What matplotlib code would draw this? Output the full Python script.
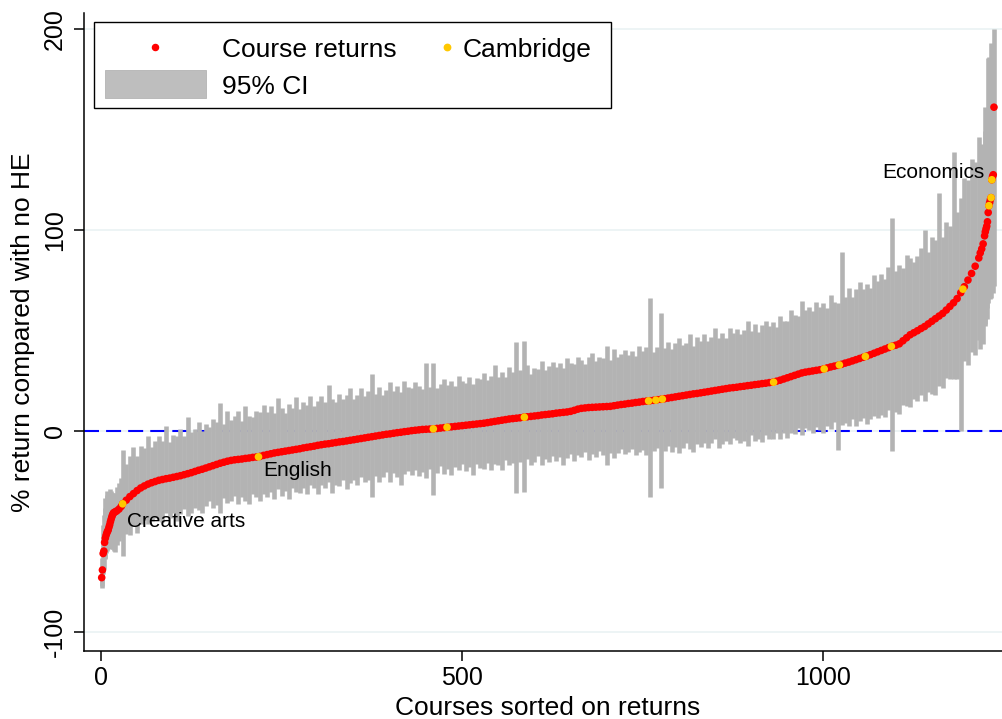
import numpy as np
import matplotlib
matplotlib.use("Agg")
import matplotlib.pyplot as plt
from matplotlib.patches import Rectangle

plt.rcParams['font.family'] = ['Liberation Sans', 'DejaVu Sans']

# course ranks: every course at the two steep ends, every fifth in between
rank_left = [1, 2, 3, 4, 5, 6, 7, 8, 9, 10, 11, 12, 13, 14, 15, 16, 17, 18,
             20, 22, 25, 28]
rank_right = [1217, 1219, 1221, 1223, 1224, 1225, 1226, 1227, 1228, 1229,
              1230, 1231, 1232, 1233, 1234, 1235, 1236]
rank_mid = list(range(30, 1216, 5))

# % return compared with no HE
ret_left = [-73.0, -69.2, -61.0, -59.8, -55.5, -53.4, -52.0, -50.9, -50.0,
            -49.3, -48.0, -46.8, -45.3, -44.0, -42.8, -41.8, -41.0, -40.6,
            -40.2, -39.8, -38.9, -37.6]
ret_mid = [
    -36.3, -34.5, -32.7, -31.2, -29.7, -28.4, -27.4, -26.5, -25.8, -25.2,
    -24.6, -24.2, -23.8, -23.5, -23.1, -22.7, -22.3, -21.8, -21.3, -20.8,
    -20.2, -19.6, -19.1, -18.5, -17.9, -17.3, -16.7, -16.1, -15.6, -15.1,
    -14.7, -14.4, -14.2, -14.0, -13.7, -13.5, -13.2, -13.0, -12.7, -12.2,
    -11.8, -11.4, -11.0, -10.7, -10.4, -10.1, -9.8, -9.5, -9.2, -8.9,
    -8.5, -8.2, -7.9, -7.6, -7.2, -6.9, -6.6, -6.4, -6.1, -5.8,
    -5.5, -5.3, -5.0, -4.7, -4.4, -4.1, -3.8, -3.5, -3.2, -2.9,
    -2.6, -2.3, -2.0, -1.7, -1.5, -1.2, -0.9, -0.7, -0.4, -0.2,
    0.1, 0.3, 0.5, 0.7, 0.8, 0.9, 1.0, 1.2, 1.4, 1.6,
    1.8, 2.0, 2.2, 2.4, 2.6, 2.8, 3.0, 3.2, 3.4, 3.6,
    3.8, 4.1, 4.4, 4.7, 5.0, 5.3, 5.6, 5.9, 6.1, 6.3,
    6.5, 6.8, 7.0, 7.2, 7.4, 7.6, 7.9, 8.1, 8.3, 8.5,
    8.8, 9.0, 9.2, 9.4, 9.7, 10.2, 10.8, 11.2, 11.4, 11.6,
    11.7, 11.8, 11.9, 12.0, 12.1, 12.2, 12.5, 12.8, 13.1, 13.3,
    13.6, 13.8, 14.1, 14.3, 14.6, 14.8, 15.0, 15.2, 15.5, 15.7,
    16.0, 16.3, 16.6, 16.9, 17.2, 17.5, 17.8, 18.1, 18.4, 18.6,
    18.9, 19.2, 19.5, 19.8, 20.1, 20.4, 20.7, 21.0, 21.3, 21.5,
    21.7, 22.0, 22.2, 22.5, 22.7, 23.0, 23.2, 23.5, 23.7, 24.0,
    24.2, 24.7, 25.2, 25.8, 26.4, 27.0, 27.6, 28.2, 28.8, 29.2,
    29.5, 29.8, 30.1, 30.4, 30.8, 31.3, 31.8, 32.2, 32.6, 33.1,
    33.7, 34.2, 34.8, 35.4, 36.0, 36.6, 37.2, 37.9, 38.6, 39.3,
    40.0, 40.7, 41.4, 42.1, 42.6, 43.3, 44.8, 46.3, 47.8, 48.8,
    49.8, 50.9, 51.9, 53.2, 54.5, 55.8, 57.1, 58.4, 60.1, 61.9,
    63.7, 65.8, 68.7, 71.7, 75.0, 78.3, 81.9, 86.0]
ret_right = [88.5, 90.5, 93.0, 97.0, 99.0, 100.5, 101.8, 104.0, 108.6, 112.0,
             113.5, 115.0, 116.0, 124.9, 126.5, 127.4, 161.0]

# 95% CI: distance above and below each return
up_left = [4, 6, 14, 18, 17, 20, 18, 19, 20, 17, 16, 18, 15, 14, 12, 11, 10,
           9, 9, 12, 13, 14]
up_mid = [
    27, 18, 20, 23, 17, 21, 19, 24, 18, 20,
    22, 19, 26, 18, 21, 20, 23, 19, 28, 20,
    21, 24, 19, 22, 20, 23, 21, 30, 19, 25,
    20, 22, 24, 19, 26, 21, 20, 23, 22, 25,
    21, 24, 20, 27, 22, 19, 23, 21, 26, 20,
    23, 21, 25, 20, 22, 24, 21, 29, 22, 20,
    24, 21, 23, 26, 20, 22, 25, 21, 23, 31,
    21, 24, 20, 22, 26, 21, 23, 20, 25, 22,
    21, 24, 22, 20, 33, 21, 33, 20, 22, 24,
    21, 23, 20, 25, 22, 21, 24, 20, 23, 22,
    25, 21, 23, 28, 22, 24, 21, 26, 23, 38,
    24, 38, 26, 21, 24, 23, 27, 22, 24, 26,
    23, 25, 22, 27, 24, 23, 26, 24, 22, 25,
    27, 23, 25, 24, 30, 23, 28, 24, 25, 27,
    24, 26, 23, 28, 25, 27, 51, 24, 26, 43,
    25, 28, 24, 27, 29, 25, 26, 30, 24, 28,
    26, 29, 25, 27, 31, 26, 28, 25, 30, 27,
    29, 26, 28, 32, 27, 30, 26, 29, 31, 28,
    30, 27, 32, 29, 28, 33, 30, 29, 36, 31,
    32, 30, 34, 31, 33, 30, 36, 32, 31, 56,
    33, 37, 32, 35, 38, 34, 36, 33, 39, 35,
    38, 35, 40, 64, 37, 39, 36, 41, 38, 35,
    37, 40, 48, 36, 42, 39, 61, 38, 44, 40,
    75, 43, 47, 54, 50, 57, 52, 60]
up_right = [45, 52, 48, 64, 50, 58, 46, 55, 77, 74, 60, 56, 77, 66, 55, 58, 39]

down_left = [5, 8, 10, 9, 8, 10, 9, 8, 10, 9, 11, 10, 13, 14, 15, 17, 18, 19,
             20, 17, 16, 15]
down_mid = [
    26, 17, 19, 16, 21, 18, 17, 20, 19, 18,
    19, 21, 17, 20, 18, 22, 19, 17, 21, 20,
    18, 20, 22, 19, 17, 21, 20, 25, 18, 21,
    20, 18, 22, 19, 21, 23, 18, 20, 22, 19,
    21, 19, 23, 18, 22, 20, 24, 19, 21, 22,
    20, 23, 19, 21, 24, 20, 22, 19, 25, 21,
    22, 19, 24, 21, 20, 23, 19, 22, 21, 30,
    20, 23, 21, 19, 24, 20, 22, 26, 21, 20,
    22, 20, 23, 21, 24, 20, 33, 22, 19, 23,
    21, 24, 20, 22, 19, 23, 21, 25, 20, 22,
    23, 20, 24, 21, 22, 25, 20, 23, 22, 37,
    22, 37, 21, 24, 23, 20, 25, 22, 24, 21,
    24, 22, 26, 23, 21, 25, 23, 24, 22, 26,
    23, 25, 22, 24, 29, 23, 26, 24, 22, 25,
    24, 23, 26, 25, 24, 27, 48, 25, 24, 44,
    26, 24, 27, 25, 28, 26, 24, 27, 29, 25,
    27, 25, 28, 26, 24, 29, 27, 26, 28, 25,
    26, 28, 27, 30, 25, 28, 27, 29, 26, 28,
    28, 26, 29, 27, 30, 28, 29, 27, 31, 28,
    29, 31, 28, 30, 32, 29, 31, 28, 42, 30,
    30, 32, 29, 33, 31, 30, 34, 32, 31, 33,
    32, 34, 31, 52, 33, 35, 32, 34, 36, 33,
    35, 33, 37, 34, 36, 38, 35, 37, 34, 36,
    38, 40, 69, 37, 42, 39, 44, 41]
down_right = [48, 45, 50, 44, 47, 42, 46, 43, 45, 44, 48, 46, 50, 55, 58, 55, 89]

# Cambridge courses
cam_rank = [30, 218, 460, 479, 586, 758, 768, 777, 931, 1001, 1022, 1058,
            1094, 1193, 1229, 1232, 1233]
cam_ret = [-36.3, -12.9, 1.0, 1.8, 6.8, 14.9, 15.3, 15.8, 24.2, 30.8, 32.8,
           37.0, 42.0, 70.5, 112.0, 116.0, 124.9]

rank = np.array(rank_left + rank_mid + rank_right)
ret = np.array(ret_left + ret_mid + ret_right)
ci_hi = ret + np.array(up_left + up_mid + up_right)
ci_lo = ret - np.array(down_left + down_mid + down_right)

W, H = 1003, 719


def fpos(x, y):
    return x / W, 1 - y / H


fig = plt.figure(figsize=(W / 100, H / 100), dpi=100)
ax = fig.add_axes([84 / W, 1 - 651 / H, 919 / W, (651 - 12.7) / H])
ax.set_xlim(-23.5, 1248.5)
ax.set_ylim(-109.5, 208)

ax.set_yticks([-100, 0, 100, 200])
ax.set_yticklabels(['-100', '0', '100', '200'])
ax.set_xticks([0, 500, 1000])
ax.set_xticklabels(['0', '500', '1000'])
ax.yaxis.grid(True, color='#eaf2f3', linewidth=1.2, zorder=0)
ax.set_axisbelow(True)

for s in ['top', 'right']:
    ax.spines[s].set_visible(False)
for s in ['left', 'bottom']:
    ax.spines[s].set_linewidth(1.1)
ax.tick_params(direction='out', length=7.2, width=1.1, labelsize=18)
ax.tick_params(axis='x', pad=3.5)
ax.tick_params(axis='y', pad=5)
for lbl in ax.get_yticklabels():
    lbl.set_rotation(90)
    lbl.set_va('center')

ax.axhline(0, color='#0000ff', linewidth=1.5, dashes=(7.2, 3.4), zorder=1)
ax.vlines(rank, ci_lo, ci_hi, colors='#b3b3b3', linewidth=3.3, zorder=2)
ax.scatter(rank, ret, s=30, color='#ff0000', edgecolors='none', zorder=3)
ax.scatter(cam_rank, cam_ret, s=30, color='#ffc800', edgecolors='none',
           zorder=4)

ax.text(36.4, -47.6, 'Creative arts', fontsize=15, ha='left',
        va='baseline', zorder=5)
ax.text(224.6, -22.6, 'English', fontsize=15, ha='left', va='baseline',
        zorder=5)
ax.text(1223.4, 125.7, 'Economics', fontsize=15, ha='right', va='baseline',
        zorder=5)

fig.text(*fpos(548, 715), 'Courses sorted on returns', fontsize=19,
         ha='center', va='baseline')
fig.text(*fpos(23, 332), '% return compared with no HE', fontsize=19,
         ha='center', va='center', rotation=90)

# legend drawn by hand to keep the Stata layout
x0, y0 = fpos(93.7, 108.3)
fig.add_artist(Rectangle((x0, y0), (611 - 93.7) / W, (108.3 - 21.7) / H,
                         transform=fig.transFigure, facecolor='white',
                         edgecolor='black', linewidth=1.0, zorder=10))
px0, py0 = fpos(105, 98)
fig.add_artist(Rectangle((px0, py0), 101 / W, 28 / H,
                         transform=fig.transFigure, facecolor='#bebebe',
                         edgecolor='#b3b3b3', linewidth=0.6, zorder=11))
fig.add_artist(plt.Line2D([155 / W], [1 - 46.7 / H], marker='o',
                          markersize=4.4, color='#ff0000', linestyle='none',
                          transform=fig.transFigure, zorder=11))
fig.add_artist(plt.Line2D([447 / W], [1 - 46.7 / H], marker='o',
                          markersize=4.6, color='#ffc800', linestyle='none',
                          transform=fig.transFigure, zorder=11))
fig.text(*fpos(222, 56.7), 'Course returns', fontsize=19, ha='left',
         va='baseline', zorder=12)
fig.text(*fpos(463, 56.7), 'Cambridge', fontsize=19, ha='left',
         va='baseline', zorder=12)
fig.text(*fpos(222, 94), '95% CI', fontsize=19, ha='left', va='baseline',
         zorder=12)

fig.savefig('out.png', dpi=100)
